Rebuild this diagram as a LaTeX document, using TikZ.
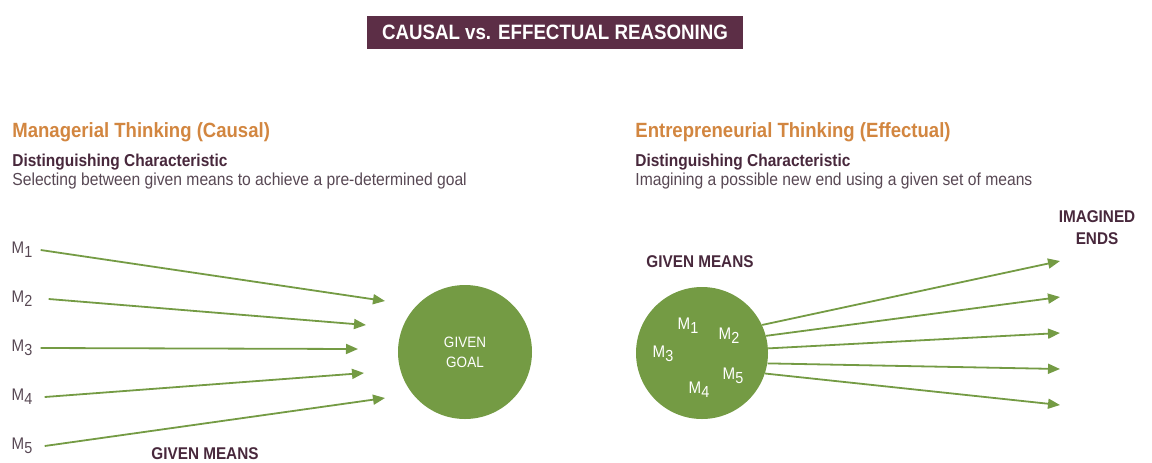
\documentclass[tikz,border=0pt]{standalone}
\usepackage{fontspec}
\usepackage{tikz}
\usepackage{xcolor}
\usetikzlibrary{positioning,arrows.meta,shapes}
\setmainfont{Liberation Sans}
\newfontfamily\condfont{Liberation Sans}[FakeStretch=0.9]
\definecolor{plum}{RGB}{92,46,70}
\definecolor{darkplum}{RGB}{72,40,60}
\definecolor{greyplum}{RGB}{88,72,84}
\definecolor{rust}{RGB}{210,134,64}
\definecolor{leaf}{RGB}{116,155,68}
\newcommand{\msub}[1]{M\raisebox{-0.45ex}{\footnotesize #1}}
\tikzset{
	meanslabel/.style={text=greyplum,font=\condfont\fontsize{8.4}{9}\selectfont,inner sep=0pt},
	headline/.style={text=rust,font=\condfont\bfseries\fontsize{10.3}{12}\selectfont,anchor=base west,inner sep=0pt},
	subhead/.style={text=darkplum,font=\condfont\bfseries\fontsize{8.6}{10}\selectfont,anchor=base west,inner sep=0pt},
	bodytext/.style={text=greyplum,font=\condfont\fontsize{8.7}{10}\selectfont,anchor=base west,inner sep=0pt},
	caps/.style={text=darkplum,font=\condfont\bfseries\fontsize{8.5}{11}\selectfont,align=center,inner sep=0pt},
	link/.style={leaf,line width=0.9pt,-{Triangle[length=6pt,width=5pt]}}
}
\begin{document}
\begin{tikzpicture}[x=0.5pt,y=-0.5pt]
	\useasboundingbox (0,0) rectangle (1152,462);
	% Title bar
	\node [fill=plum,minimum width=188pt,minimum height=16.5pt,inner sep=0pt,text=white,font=\condfont\bfseries\fontsize{10.4}{12}\selectfont] (title) at (555,32.5) {CAUSAL vs. EFFECTUAL REASONING};
	% Left column (causal)
	\node [headline] (lhead) at (12,137) {Managerial Thinking (Causal)};
	\node [subhead] (lsub) at (12,166) {Distinguishing Characteristic};
	\node [bodytext] (ltext) at (12,185) {Selecting between given means to achieve a pre-determined goal};
	\node [meanslabel] (m1) at (22,250) {\msub{1}};
	\node [meanslabel] (m2) at (22,299) {\msub{2}};
	\node [meanslabel] (m3) at (22,348) {\msub{3}};
	\node [meanslabel] (m4) at (22,397) {\msub{4}};
	\node [meanslabel] (m5) at (22,446) {\msub{5}};
	\coordinate [] (g1) at (385,301) ;
	\coordinate [] (g2) at (366,325) ;
	\coordinate [] (g3) at (358,349) ;
	\coordinate [] (g4) at (364,373) ;
	\coordinate [] (g5) at (385,398) ;
	\draw [link] ([xshift=4pt]m1.east) -- (g1);
	\draw [link] ([xshift=8pt]m2.east) -- (g2);
	\draw [link] ([xshift=4pt]m3.east) -- (g3);
	\draw [link] ([xshift=6pt]m4.east) -- (g4);
	\draw [link] ([xshift=6pt]m5.east) -- (g5);
	\node [caps] (lmeans) at (205,454) {GIVEN MEANS};
	\node [circle,fill=leaf,minimum size=67pt,inner sep=0pt] (goal) at (465,352) {};
	\node [text=white,font=\condfont\fontsize{7.5}{10}\selectfont,align=center] (goaltext) at (goal.center) {GIVEN\\GOAL};
	% Right column (effectual)
	\node [headline] (rhead) at (635,137) {Entrepreneurial Thinking (Effectual)};
	\node [subhead] (rsub) at (635,166) {Distinguishing Characteristic};
	\node [bodytext] (rtext) at (635,185) {Imagining a possible new end using a given set of means};
	\node [caps] (rmeans) at (700,262) {GIVEN MEANS};
	\node [caps] (ends) at (1097,228) {IMAGINED\\ENDS};
	\node [circle,fill=leaf,minimum size=66pt,inner sep=0pt] (means) at (702,353) {};
	\node [meanslabel,text=white] (n1) at (688,326) {\msub{1}};
	\node [meanslabel,text=white] (n2) at (729,336) {\msub{2}};
	\node [meanslabel,text=white] (n3) at (663,354) {\msub{3}};
	\node [meanslabel,text=white] (n4) at (699,390) {\msub{4}};
	\node [meanslabel,text=white] (n5) at (733,376) {\msub{5}};
	\coordinate [] (e1) at (1060,261) ;
	\coordinate [] (e2) at (1060,297) ;
	\coordinate [] (e3) at (1060,333) ;
	\coordinate [] (e4) at (1060,369) ;
	\coordinate [] (e5) at (1060,405) ;
	\draw [link] (means.25) -- (e1);
	\draw [link] (means.15) -- (e2);
	\draw [link] (means.4) -- (e3);
	\draw [link] (means.-9) -- (e4);
	\draw [link] (means.-18) -- (e5);
\end{tikzpicture}
\end{document}
